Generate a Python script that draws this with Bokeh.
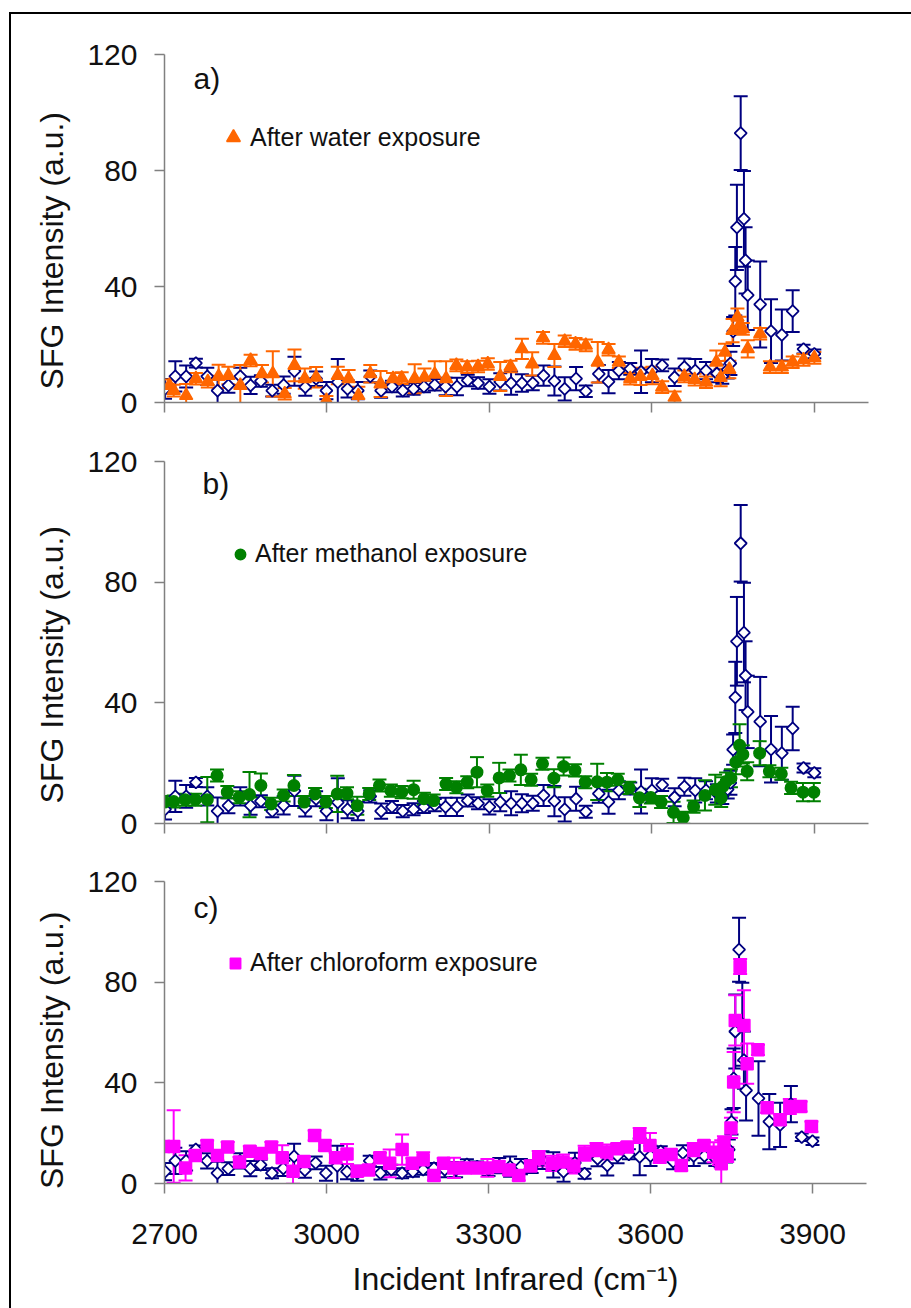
import numpy as np
from bokeh.plotting import figure
from bokeh.models import (ColumnDataSource, Whisker, TeeHead, FixedTicker, Label,
                          Legend, LegendItem, Range1d, CustomLabelingPolicy)
from bokeh.layouts import column
from bokeh.embed import file_html
from bokeh.resources import INLINE

# ---------------- data ----------------
# pristine surface (open navy diamonds, shown in every panel)
pristine_wn = [2701, 2720, 2740, 2758, 2779, 2798, 2818, 2840, 2859, 2878, 2899, 2920,
               2940, 2960, 2980, 2999, 3020, 3038, 3057, 3080, 3100, 3120, 3140, 3160,
               3179, 3199, 3219, 3240, 3260, 3279, 3300, 3320, 3340, 3360, 3380, 3400,
               3420, 3439, 3460, 3478, 3502, 3520, 3539, 3560, 3580, 3600, 3619, 3642,
               3660, 3680, 3700, 3720, 3730, 3740, 3745, 3750, 3754, 3757, 3764, 3770,
               3773, 3777, 3800, 3820, 3840, 3860, 3880, 3900]
pristine_int = [4.7, 9.0, 9.0, 13.6, 9.0, 4.1, 5.9, 9.0, 5.9, 7.4, 4.1, 6.0,
                10.8, 5.3, 8.2, 4.1, 7.0, 4.7, 4.1, 9.0, 4.1, 5.5, 4.1, 4.7,
                5.5, 6.1, 5.5, 5.5, 7.6, 6.7, 5.5, 7.1, 6.7, 6.7, 6.7, 9.3,
                7.4, 4.7, 8.2, 3.9, 9.9, 7.2, 11.0, 11.6, 10.6, 11.0, 12.8, 8.7,
                12.2, 11.0, 11.0, 10.0, 9.0, 11.3, 13.5, 24.5, 41.8, 60.4, 92.9, 63.3,
                49.0, 37.0, 33.8, 24.6, 23.3, 31.5, 18.4, 16.8]
pristine_err = [3.4, 5.2, 3.8, 1.5, 3.0, 4.5, 2.5, 3.0, 3.0, 2.0, 2.0, 3.0,
                5.0, 3.0, 2.5, 3.0, 8.0, 3.0, 3.0, 2.0, 2.5, 2.0, 2.0, 2.0,
                2.0, 2.0, 3.0, 3.0, 2.0, 2.0, 2.5, 3.0, 4.0, 3.0, 2.5, 3.5,
                5.0, 4.0, 4.0, 2.0, 3.0, 4.0, 3.0, 2.0, 7.3, 4.0, 2.0, 3.0,
                3.0, 4.0, 3.0, 3.0, 2.5, 3.0, 4.0, 5.0, 11.8, 14.7, 12.7, 16.5,
                11.4, 12.0, 14.8, 11.0, 8.8, 7.2, 1.5, 1.5]

# after water exposure (orange triangles)
water_wn = [2709, 2717, 2740, 2758, 2780, 2800, 2818, 2840, 2859, 2880, 2900, 2922,
            2940, 2959, 2980, 2999, 3020, 3040, 3058, 3080, 3099, 3122, 3138, 3162,
            3180, 3199, 3220, 3239, 3259, 3279, 3297, 3320, 3339, 3360, 3379, 3399,
            3420, 3439, 3459, 3478, 3500, 3520, 3539, 3560, 3579, 3601, 3619, 3642,
            3660, 3679, 3700, 3719, 3727, 3735, 3743, 3749, 3758, 3762, 3768, 3777,
            3800, 3818, 3840, 3860, 3880, 3900]
water_int = [5.9, 4.1, 2.4, 8.2, 7.2, 9.0, 9.3, 5.9, 14.5, 9.9, 9.9, 3.0,
             12.8, 8.2, 8.7, 0.7, 9.3, 8.2, 2.4, 9.9, 6.4, 8.2, 8.4, 8.2,
             8.7, 9.7, 8.2, 12.8, 12.2, 12.4, 13.3, 9.0, 12.4, 18.5, 13.3, 22.3,
             16.2, 21.1, 20.2, 19.7, 13.9, 18.2, 13.9, 8.2, 9.0, 9.3, 5.3, 1.8,
             9.0, 7.9, 7.0, 13.9, 8.6, 17.3, 11.4, 24.8, 29.4, 26.6, 25.4, 18.5,
             23.7, 12.2, 12.2, 13.9, 14.7, 15.4]
water_err = [2.0, 2.0, 4.0, 2.0, 2.0, 4.0, 3.0, 7.0, 2.0, 3.0, 7.8, 2.0,
             5.5, 3.5, 3.5, 1.5, 3.0, 3.0, 3.0, 3.0, 4.5, 2.0, 2.0, 5.0,
             3.0, 4.5, 6.0, 2.0, 2.0, 2.0, 2.0, 5.0, 2.0, 3.5, 4.0, 2.0,
             4.0, 2.0, 2.0, 2.0, 7.0, 2.0, 2.0, 2.0, 3.0, 3.0, 2.0, 2.0,
             2.0, 2.0, 2.0, 4.0, 3.0, 3.0, 3.0, 4.0, 3.0, 3.0, 2.0, 3.0,
             2.0, 2.0, 2.0, 2.0, 2.0, 2.0]

# after methanol exposure (green circles)
methanol_wn = [2700, 2717, 2738, 2757, 2779, 2797, 2816, 2838, 2857, 2878, 2897, 2920,
               2939, 2958, 2978, 2998, 3019, 3037, 3056, 3078, 3097, 3118, 3138, 3160,
               3179, 3197, 3220, 3239, 3259, 3277, 3296, 3318, 3337, 3358, 3377, 3398,
               3419, 3437, 3458, 3477, 3499, 3517, 3537, 3558, 3577, 3598, 3617, 3640,
               3658, 3677, 3698, 3717, 3728, 3731, 3737, 3746, 3755, 3762, 3768, 3776,
               3799, 3817, 3839, 3857, 3879, 3899]
methanol_int = [7.1, 7.3, 7.9, 7.9, 7.9, 15.9, 10.4, 8.7, 9.6, 12.6, 6.5, 9.3,
                12.6, 7.1, 9.8, 7.1, 9.8, 10.0, 5.9, 9.8, 12.6, 10.9, 10.4, 11.2,
                8.2, 7.6, 13.1, 12.0, 13.7, 17.0, 10.9, 15.1, 15.9, 17.8, 14.5, 19.8,
                15.0, 18.9, 17.6, 13.7, 13.8, 13.7, 14.5, 11.8, 8.5, 8.6, 7.1, 3.7,
                1.9, 5.6, 9.3, 11.2, 8.5, 12.3, 13.9, 15.0, 20.3, 25.9, 22.9, 17.3,
                23.3, 17.3, 16.5, 11.8, 10.4, 10.4]
methanol_err = [2.0, 2.0, 2.0, 2.0, 7.5, 2.0, 2.0, 2.0, 7.5, 4.0, 2.0, 2.0,
                3.5, 2.0, 2.0, 2.0, 6.0, 2.0, 3.0, 2.0, 2.0, 2.0, 2.0, 3.0,
                2.0, 2.0, 2.0, 2.0, 2.0, 5.0, 2.0, 5.0, 2.0, 5.0, 2.0, 2.0,
                3.0, 3.0, 2.0, 2.0, 6.0, 3.0, 2.0, 2.0, 3.0, 2.0, 2.0, 3.5,
                2.0, 2.0, 5.0, 5.0, 3.0, 3.0, 3.0, 3.0, 4.0, 7.0, 3.0, 3.0,
                4.0, 2.0, 2.0, 2.0, 3.0, 3.0]

# after chloroform exposure (magenta squares)
chloroform_wn = [2699, 2717, 2739, 2757, 2779, 2798, 2817, 2839, 2858, 2879, 2898, 2918,
                 2938, 2958, 2978, 2997, 3017, 3038, 3057, 3078, 3099, 3117, 3140, 3159,
                 3179, 3199, 3217, 3236, 3257, 3279, 3298, 3319, 3338, 3356, 3378, 3393,
                 3418, 3438, 3458, 3478, 3500, 3519, 3538, 3557, 3580, 3599, 3617, 3638,
                 3657, 3680, 3699, 3717, 3727, 3731, 3736, 3742, 3749, 3754, 3757, 3766,
                 3773, 3779, 3799, 3816, 3840, 3858, 3878, 3898]
chloroform_int = [14.7, 14.7, 6.2, 11.1, 15.1, 11.1, 14.5, 8.5, 12.8, 11.9, 14.5, 10.2,
                  4.9, 8.7, 19.1, 15.1, 10.2, 11.7, 4.9, 5.4, 10.2, 8.0, 13.5, 8.0,
                  9.4, 3.2, 8.0, 6.2, 6.2, 6.2, 6.2, 6.8, 5.4, 3.2, 7.0, 9.9,
                  8.0, 8.5, 7.0, 12.0, 13.1, 12.5, 13.8, 14.5, 19.1, 15.1, 11.1, 11.5,
                  7.2, 13.1, 15.1, 12.4, 10.4, 7.8, 15.8, 11.5, 22.1, 40.3, 64.8, 86.2,
                  62.8, 47.6, 53.1, 30.1, 25.3, 30.6, 30.6, 22.6]
chloroform_err = [2.0, 14.4, 5.0, 2.0, 2.0, 2.0, 2.0, 2.0, 2.0, 2.0, 2.0, 5.0,
                  5.0, 2.0, 2.0, 2.0, 2.0, 4.0, 2.0, 2.0, 2.0, 5.5, 6.0, 2.0,
                  3.0, 2.0, 2.0, 4.0, 2.0, 2.0, 3.5, 2.0, 2.0, 2.0, 2.0, 3.0,
                  3.0, 3.0, 3.0, 3.0, 3.0, 3.0, 2.0, 2.0, 3.0, 5.0, 3.0, 2.0,
                  2.0, 3.0, 2.0, 4.0, 3.0, 9.4, 3.0, 3.0, 4.0, 12.0, 10.0, 3.0,
                  14.0, 8.0, 2.0, 2.0, 2.0, 3.0, 2.0, 2.0]

x_ticks = [2700, 3000, 3300, 3600, 3900]
y_ticks = [0, 40, 80, 120]
panel_tags = ["a)", "b)", "c)"]
legend_texts = ["After water exposure", "After methanol exposure", "After chloroform exposure"]
y_title = "SFG Intensity (a.u.)"
x_title = "Incident Infrared (cm\u207b\u00b9)"

NAVY = "#000080"
AXIS_GREY = "#808080"
FONT = "Liberation Sans"
NBSP = "\u00a0"


def error_source(wn, inten, err):
    inten = np.asarray(inten, dtype=float)
    err = np.asarray(err, dtype=float)
    return ColumnDataSource(dict(x=wn, y=inten, upper=inten + err, lower=inten - err))


def add_series(p, src, color, marker, size, fill, line_width, angle=0.0):
    head = dict(size=14, line_color=color, line_width=2)
    p.add_layout(Whisker(source=src, base="x", upper="upper", lower="lower",
                         line_color=color, line_width=2,
                         upper_head=TeeHead(**head), lower_head=TeeHead(**head)))
    return p.scatter("x", "y", source=src, marker=marker, size=size, angle=angle,
                     fill_color=fill, line_color=color, line_width=line_width)


def build_panel(tag, wn, inten, err, color, marker, size, legend_text,
                frame_w, frame_h, borders, show_x_labels, title_pad,
                tag_xy, legend_loc, legend_box, legend_standoff):
    left, right, top, bottom = borders
    p = figure(frame_width=frame_w, frame_height=frame_h,
               min_border_left=left, min_border_right=right,
               min_border_top=top, min_border_bottom=bottom,
               x_range=Range1d(2700, 4000), y_range=Range1d(0, 120),
               output_backend="svg", toolbar_location=None, tools="")
    p.grid.visible = False
    p.outline_line_color = None
    p.background_fill_color = "white"
    p.border_fill_color = "white"

    for ax in (p.xaxis[0], p.yaxis[0]):
        ax.axis_line_color = AXIS_GREY
        ax.axis_line_width = 1.5
        ax.major_tick_line_color = AXIS_GREY
        ax.major_tick_line_width = 1.5
        ax.major_tick_out = 10
        ax.major_tick_in = 0
        ax.minor_tick_line_color = None
        ax.major_label_text_font = FONT
        ax.major_label_text_font_size = "30px"
        ax.major_label_text_color = "#111111"

    p.xaxis.ticker = FixedTicker(ticks=x_ticks)
    p.yaxis.ticker = FixedTicker(ticks=y_ticks)
    p.yaxis.major_label_standoff = 17

    # y title, padded at its far end so it sits a little below the frame centre
    p.yaxis.axis_label = y_title + NBSP * title_pad
    p.yaxis.axis_label_text_font = FONT
    p.yaxis.axis_label_text_font_size = "32px"
    p.yaxis.axis_label_text_font_style = "normal"
    p.yaxis.axis_label_text_color = "#111111"
    p.yaxis.axis_label_standoff = 14

    if show_x_labels:
        p.xaxis.major_label_standoff = 30
        p.xaxis.axis_label = x_title
        p.xaxis.axis_label_text_font = FONT
        p.xaxis.axis_label_text_font_size = "32px"
        p.xaxis.axis_label_text_font_style = "normal"
        p.xaxis.axis_label_text_color = "#111111"
        p.xaxis.axis_label_standoff = 14
    else:
        # tick marks only on the upper panels
        p.xaxis.major_label_text_font_size = "0px"
        p.xaxis.major_label_standoff = 0
        p.xaxis.major_label_policy = CustomLabelingPolicy(code="return []")

    # pristine reference spectrum underneath, exposed sample on top
    add_series(p, error_source(pristine_wn, pristine_int, pristine_err),
               NAVY, "square", 8.5, "white", 1.8, angle=np.pi / 4)
    r = add_series(p, error_source(wn, inten, err), color, marker, size, color, 1.5)

    p.add_layout(Label(x=tag_xy[0], y=tag_xy[1], x_units="screen", y_units="screen",
                       text=tag, text_font=FONT, text_font_size="30px",
                       text_color="#111111", text_baseline="alphabetic"))

    legend = Legend(items=[LegendItem(label=legend_text, renderers=[r])],
                    location=legend_loc, glyph_width=legend_box, glyph_height=legend_box,
                    label_standoff=legend_standoff, padding=0, margin=0, spacing=0,
                    border_line_color=None, background_fill_alpha=0,
                    label_text_font=FONT, label_text_font_size="25px",
                    label_text_color="#111111")
    p.add_layout(legend)
    return p


pa = build_panel(panel_tags[0], water_wn, water_int, water_err, "#FF6600", "triangle", 13,
                 legend_texts[0], 704, 348, (149, 47, 40, 30), False, 5,
                 (29, 324), (52, 248), 34, -2)
pb = build_panel(panel_tags[1], methanol_wn, methanol_int, methanol_err, "#008000", "circle", 11.5,
                 legend_texts[1], 704, 362, (149, 47, 29, 29), False, 5,
                 (38, 340), (63, 255), 26, 2)
pc = build_panel(panel_tags[2], chloroform_wn, chloroform_int, chloroform_err, "#FF00FF", "square", 12,
                 legend_texts[2], 702, 302, (153, 45, 29, 125), True, 4,
                 (29, 276), (58, 206), 26, 2)

page = column(pa, pb, pc, margin=(12, 0, 0, 9),
              styles={"border-left": "2px solid black", "border-top": "2px solid black"})

open("out.html", "w").write(file_html(page, INLINE))
